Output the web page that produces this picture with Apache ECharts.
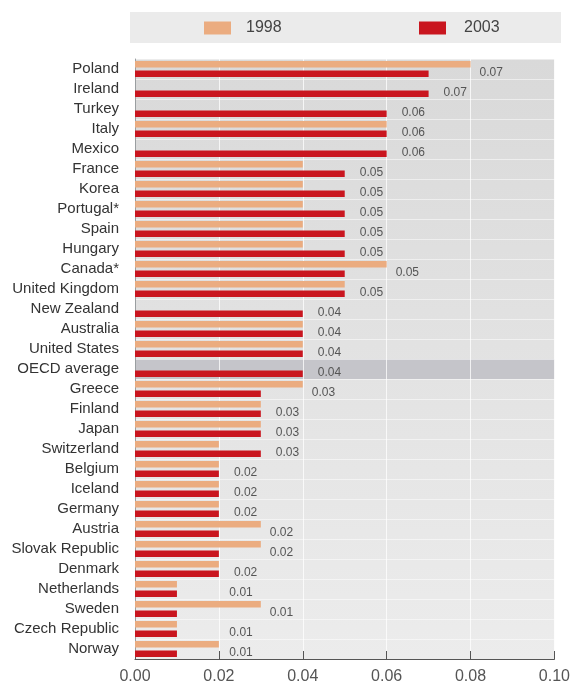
<!DOCTYPE html>
<html>
<head>
<meta charset="utf-8">
<script src="https://cdn.jsdelivr.net/npm/echarts@6/dist/echarts.min.js"></script>
<style>
  html, body { margin: 0; padding: 0; background: #ffffff; }
  #chart { width: 573px; height: 685px; }
</style>
</head>
<body>
<div id="chart"></div>
<script>
// Countries, top to bottom
const countries = [
  'Poland', 'Ireland', 'Turkey', 'Italy', 'Mexico', 'France', 'Korea', 'Portugal*',
  'Spain', 'Hungary', 'Canada*', 'United Kingdom', 'New Zealand', 'Australia',
  'United States', 'OECD average', 'Greece', 'Finland', 'Japan', 'Switzerland',
  'Belgium', 'Iceland', 'Germany', 'Austria', 'Slovak Republic', 'Denmark',
  'Netherlands', 'Sweden', 'Czech Republic', 'Norway'
];

// 1998 values (null = not available)
const values1998 = [
  0.08, null, null, 0.06, null, 0.04, 0.04, 0.04,
  0.04, 0.04, 0.06, 0.05, null, 0.04,
  0.04, null, 0.04, 0.03, 0.03, 0.02,
  0.02, 0.02, 0.02, 0.03, 0.03, 0.02,
  0.01, 0.03, 0.01, 0.02
];

// 2003 values (these are also the printed labels)
const values2003 = [
  0.07, 0.07, 0.06, 0.06, 0.06, 0.05, 0.05, 0.05,
  0.05, 0.05, 0.05, 0.05, 0.04, 0.04,
  0.04, 0.04, 0.03, 0.03, 0.03, 0.03,
  0.02, 0.02, 0.02, 0.02, 0.02, 0.02,
  0.01, 0.01, 0.01, 0.01
];

// Value axis ticks
const axisTicks = [0.00, 0.02, 0.04, 0.06, 0.08, 0.10];

const seriesNames = ['1998', '2003'];
const COLOR_1998 = '#ebac80';
const COLOR_2003 = '#c9161f';
const FONT = '"Liberation Sans", Arial, Helvetica, sans-serif';

// value labels are never placed closer to the axis than this
const LABEL_FLOOR = 0.0225;

const chart = echarts.init(document.getElementById('chart'), null, { renderer: 'canvas' });

const highlightRow = 'OECD average';

const option = {
  backgroundColor: '#ffffff',
  animation: false,
  graphic: {
    elements: [{
      type: 'rect',
      left: 130,
      top: 12,
      shape: { width: 431, height: 31 },
      style: { fill: '#ebebeb' },
      silent: true,
      z: -5
    }]
  },
  legend: [
    {
      data: [seriesNames[0]],
      left: 204,
      top: 20,
      padding: 0,
      icon: 'rect',
      itemWidth: 27,
      itemHeight: 13,
      textStyle: { fontSize: 16, color: '#444', fontFamily: FONT, padding: [0, 0, 0, 10] }
    },
    {
      data: [seriesNames[1]],
      left: 419,
      top: 20,
      padding: 0,
      icon: 'rect',
      itemWidth: 27,
      itemHeight: 13,
      textStyle: { fontSize: 16, color: '#444', fontFamily: FONT, padding: [0, 0, 0, 13] }
    }
  ],
  grid: {
    left: 135,
    right: 18,
    top: 59,
    bottom: 26,
    show: true,
    borderWidth: 0,
    backgroundColor: new echarts.graphic.LinearGradient(0, 0, 0, 1, [
      { offset: 0, color: '#d9d9d9' },
      { offset: 1, color: '#ececec' }
    ])
  },
  xAxis: {
    type: 'value',
    min: axisTicks[0],
    max: axisTicks[axisTicks.length - 1],
    interval: axisTicks[1] - axisTicks[0],
    axisLine: { show: true, lineStyle: { color: '#555', width: 1 } },
    axisTick: { show: true, inside: true, length: 8, lineStyle: { color: '#555' } },
    axisLabel: {
      fontSize: 16,
      color: '#555',
      fontFamily: FONT,
      margin: 10,
      formatter: v => v.toFixed(2)
    },
    splitLine: { show: true, lineStyle: { color: 'rgba(255,255,255,0.75)', width: 1 } }
  },
  yAxis: {
    type: 'category',
    data: countries,
    inverse: true,
    axisLine: { show: true, lineStyle: { color: '#9a9ea0', width: 1 } },
    axisTick: { show: false },
    axisLabel: { fontSize: 15, color: '#333', fontFamily: FONT, margin: 16 },
    splitLine: { show: true, lineStyle: { color: 'rgba(255,255,255,0.5)', width: 1 } },
    splitArea: {
      show: true,
      areaStyle: {
        color: countries.map(c => c === highlightRow ? '#c5c5ca' : 'rgba(0,0,0,0)')
      }
    }
  },
  series: [
    {
      name: seriesNames[0],
      type: 'bar',
      data: values1998.map(v => v === null ? '-' : v),
      barWidth: 6.5,
      barGap: '46%',
      itemStyle: { color: COLOR_1998 },
      z: 3
    },
    {
      name: seriesNames[1],
      type: 'bar',
      data: values2003,
      barWidth: 6.5,
      barGap: '46%',
      itemStyle: { color: COLOR_2003 },
      z: 3
    },
    {
      // printed 2003 value to the right of each pair of bars
      name: 'labels',
      type: 'custom',
      encode: { x: 0, y: 1 },
      data: countries.map((c, i) => [values2003[i], i, values1998[i] === null ? NaN : values1998[i]]),
      renderItem: (params, api) => {
        const row = api.value(1);
        const v03 = api.value(0);
        const v98 = api.value(2);
        const p03 = api.coord([v03, row]);
        const x98 = isNaN(v98) ? -Infinity : api.coord([v98, row])[0];
        const xFloor = api.coord([LABEL_FLOOR, row])[0];
        const x = Math.max(p03[0] + 15, x98 + 9, xFloor);
        return {
          type: 'text',
          x: x,
          y: p03[1] + 4,
          style: {
            text: v03.toFixed(2),
            fill: '#555',
            font: '12px ' + FONT,
            align: 'left',
            verticalAlign: 'middle'
          },
          z2: 10
        };
      },
      z: 5,
      silent: true
    }
  ]
};

chart.setOption(option);
</script>
</body>
</html>
